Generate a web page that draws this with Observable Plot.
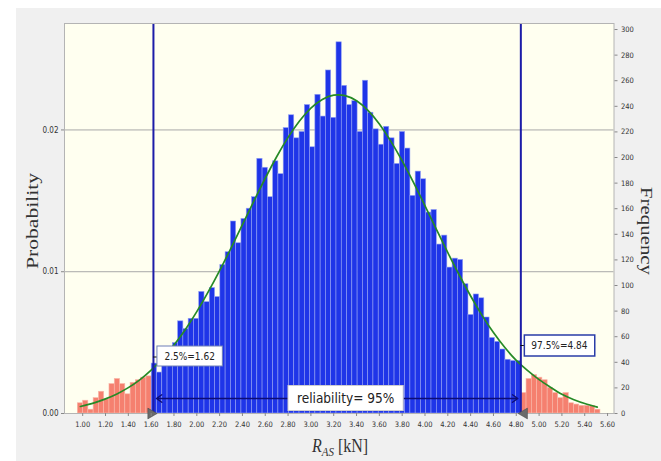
<!DOCTYPE html>
<html><head><meta charset="utf-8">
<script src="https://cdn.jsdelivr.net/npm/d3@7"></script>
<script src="https://cdn.jsdelivr.net/npm/@observablehq/plot@0.6"></script>
<style>
body{margin:0;background:#fff;}
#wrap{position:relative;width:661px;height:461px;overflow:hidden;background:#fff;}
#bg{position:absolute;left:16px;top:8px;right:0;bottom:0;background:#f0f0f0;}
#wrap svg{position:absolute;left:0;top:0;}
</style></head><body>
<div id="wrap"><div id="bg"></div></div>
<script>
// ---- data ----
const binStart = 0.957;      // left edge of first histogram bin (kN)
const binWidth = 0.04627;    // bin width (kN)
const counts = [
  8,10,3,12,17,11,23,27,23,15,24,26,28,29,
  39,32,45,48,55,72,66,74,74,95,87,98,91,116,126,150,133,152,160,169,
  199,192,169,197,187,223,233,215,220,241,208,249,232,268,231,290,256,241,244,220,
  260,235,222,210,224,215,195,220,207,170,189,183,157,159,132,139,114,121,120,101,
  77,93,90,75,59,56,50,42,41,41,
  16,27,30,28,26,20,16,12,16,8,7,6,6,6,3
];
const curveX = [0.98,1.1,1.2,1.3,1.4,1.5,1.6,1.7,1.8,1.9,2.0,2.1,2.2,2.3,2.4,2.5,2.6,2.7,2.8,2.9,3.0,3.1,3.2,3.3,3.4,3.5,3.6,3.7,3.8,3.9,4.0,4.1,4.2,4.3,4.4,4.5,4.6,4.7,4.8,4.9,5.0,5.1,5.2,5.3,5.4,5.51];
const curveY = [5.5,8.3,11.4,15.3,20.2,26.3,33.9,42.9,53.5,65.7,79.6,95,111.6,129.3,147.5,165.9,183.8,200.6,215.7,228.5,238.6,245.4,248.7,248.3,244.3,236.8,226.2,212.8,197.3,180.3,162.2,143.8,125.7,108.2,91.8,76.7,63.2,51.5,41.5,33.5,26.5,20.5,15,11,7.8,5];
const quantiles = [1.62, 4.84];
const quantileLabels = ["2.5%=1.62", "97.5%=4.84"];
const reliabilityLabel = "reliability= 95%";
const xTicks = [1.00,1.20,1.40,1.60,1.80,2.00,2.20,2.40,2.60,2.80,3.00,3.20,3.40,3.60,3.80,4.00,4.20,4.40,4.60,4.80,5.00,5.20,5.40,5.60];
const freqTicks = [0,20,40,60,80,100,120,140,160,180,200,220,240,260,280,300];
const probTicks = [0, 0.01, 0.02];

// ---- derived tables ----
const bins = counts.map((c, i) => ({x1: binStart + i * binWidth, x2: binStart + (i + 1) * binWidth, count: c}));
const mid = d => (d.x1 + d.x2) / 2;
const inside = d => mid(d) >= quantiles[0] && mid(d) <= quantiles[1];
const total = d3.sum(counts);
const curve = curveX.map((x, i) => ({x, y: curveY[i]}));
const center = (quantiles[0] + quantiles[1]) / 2;
const arrowY = 11.7;
const arrows = [{x1: center, x2: quantiles[0], y: arrowY}, {x1: center, x2: quantiles[1], y: arrowY}];

const narrow = "'Liberation Sans Narrow','DejaVu Sans Condensed','Liberation Sans',sans-serif";

const plot = Plot.plot({
  width: 661, height: 461,
  marginLeft: 64, marginRight: 47.5, marginTop: 23, marginBottom: 48,
  style: {background: "transparent", fontFamily: narrow, color: "#333"},
  x: {domain: [0.8405, 5.6565]},
  y: {domain: [0, 304.7]},
  marks: [
    Plot.frame({fill: "#fffff0"}),
    Plot.ruleY(probTicks.slice(1).map(p => p * total), {stroke: "#a8a8a8", strokeWidth: 1}),
    Plot.rectY(bins.filter(d => !inside(d)), {x1: "x1", x2: "x2", y: "count", fill: "#f5806f", stroke: "#f9b8ab", strokeWidth: 0.6}),
    Plot.rectY(bins.filter(inside), {x1: "x1", x2: "x2", y: "count", fill: "#1f35e8", stroke: "#93a0f3", strokeWidth: 0.6}),
    Plot.line(curve, {x: "x", y: "y", stroke: "#268a26", strokeWidth: 1.7, curve: "natural"}),
    Plot.ruleX(quantiles, {stroke: "#1c1ca8", strokeWidth: 2}),
    Plot.arrow(arrows, {x1: "x1", x2: "x2", y1: "y", y2: "y", stroke: "#0d0d75", strokeWidth: 1.4, headLength: 7, headAngle: 70, insetEnd: 3}),
    Plot.frame({stroke: "#b4b4b4"}),
    Plot.dot([{x: quantiles[0], y: 0}], {x: "x", y: "y", symbol: "triangle", rotate: 90, r: 4, fill: "#6a6a6a", stroke: "#444", strokeWidth: 0.5, dx: -2.5, dy: 0}),
    Plot.dot([{x: quantiles[1], y: 0}], {x: "x", y: "y", symbol: "triangle", rotate: -90, r: 4, fill: "#6a6a6a", stroke: "#444", strokeWidth: 0.5, dx: 3.5, dy: 0}),
    Plot.axisX(xTicks, {anchor: "bottom", tickSize: 3, tickPadding: 5, tickFormat: d => d.toFixed(2), label: null, stroke: "#888", fill: "#333", fontSize: 7.5}),
    Plot.axisY(freqTicks, {anchor: "right", tickSize: 3, tickPadding: 4, label: null, stroke: "#888", fill: "#333", fontSize: 7.5}),
    Plot.axisY(probTicks.map(p => p * total), {anchor: "left", tickSize: 3, tickPadding: 3, tickFormat: d => (d / total).toFixed(2), label: null, stroke: "#888", fill: "#333", fontSize: 8})
  ]
});
document.getElementById("wrap").appendChild(plot);

// ---- annotations & axis titles ----
const svg = d3.select(plot);
const xs = plot.scale("x"), ys = plot.scale("y");

function labelBox(text, left, cy, opt) {
  const g = svg.append("g");
  const rect = g.append("rect");
  const t = g.append("text").text(text)
    .attr("x", left + opt.padX).attr("y", cy)
    .attr("text-anchor", "start")
    .attr("dominant-baseline", "central")
    .attr("font-family", narrow).attr("font-size", opt.fontSize).attr("fill", "#222");
  const bb = t.node().getBBox();
  rect.attr("x", left).attr("y", cy - opt.h / 2)
    .attr("width", bb.width + 2 * opt.padX).attr("height", opt.h)
    .attr("fill", "#fff").attr("stroke", opt.stroke).attr("stroke-width", opt.sw);
}

// small connectors
svg.append("line").attr("x1", xs.apply(quantiles[0])).attr("x2", xs.apply(quantiles[0]) + 4)
  .attr("y1", 357).attr("y2", 357).attr("stroke", "#111").attr("stroke-width", 1);
svg.append("line").attr("x1", xs.apply(quantiles[1])).attr("x2", xs.apply(quantiles[1]) + 4)
  .attr("y1", 345.5).attr("y2", 345.5).attr("stroke", "#111").attr("stroke-width", 1);

labelBox(quantileLabels[0], xs.apply(quantiles[0]) + 4, 356, {padX: 7.5, h: 20, fontSize: 10, stroke: "#6f7fb8", sw: 1});
labelBox(quantileLabels[1], xs.apply(quantiles[1]) + 4, 345.5, {padX: 7, h: 21, fontSize: 10, stroke: "#2a3ca8", sw: 1.5});
labelBox(reliabilityLabel, 288, ys.apply(arrowY), {padX: 9, h: 25, fontSize: 13.5, stroke: "#cfcfcf", sw: 1});

// x axis title  R_AS [kN]
const xt = svg.append("text")
  .attr("transform", "translate(340,452) scale(1,1.2)")
  .attr("text-anchor", "middle")
  .attr("font-family", "'Liberation Serif','DejaVu Serif',serif")
  .attr("font-size", 16).attr("fill", "#333");
xt.append("tspan").attr("font-style", "italic").text("R");
xt.append("tspan").attr("font-style", "italic").attr("font-size", 11).attr("dy", 3.5).text("AS");
xt.append("tspan").attr("dy", -3.5).text(" [kN]");

svg.append("text")
  .attr("transform", "translate(32,221) rotate(-90)")
  .attr("text-anchor", "middle").attr("dominant-baseline", "central")
  .attr("font-family", "'Liberation Serif','DejaVu Serif',serif")
  .attr("font-size", 17).attr("fill", "#333")
  .attr("textLength", 96).attr("lengthAdjust", "spacingAndGlyphs")
  .text("Probability");

svg.append("text")
  .attr("transform", "translate(646,231) rotate(90)")
  .attr("text-anchor", "middle").attr("dominant-baseline", "central")
  .attr("font-family", "'Liberation Serif','DejaVu Serif',serif")
  .attr("font-size", 17).attr("fill", "#333")
  .attr("textLength", 88).attr("lengthAdjust", "spacingAndGlyphs")
  .text("Frequency");
</script>
</body></html>
